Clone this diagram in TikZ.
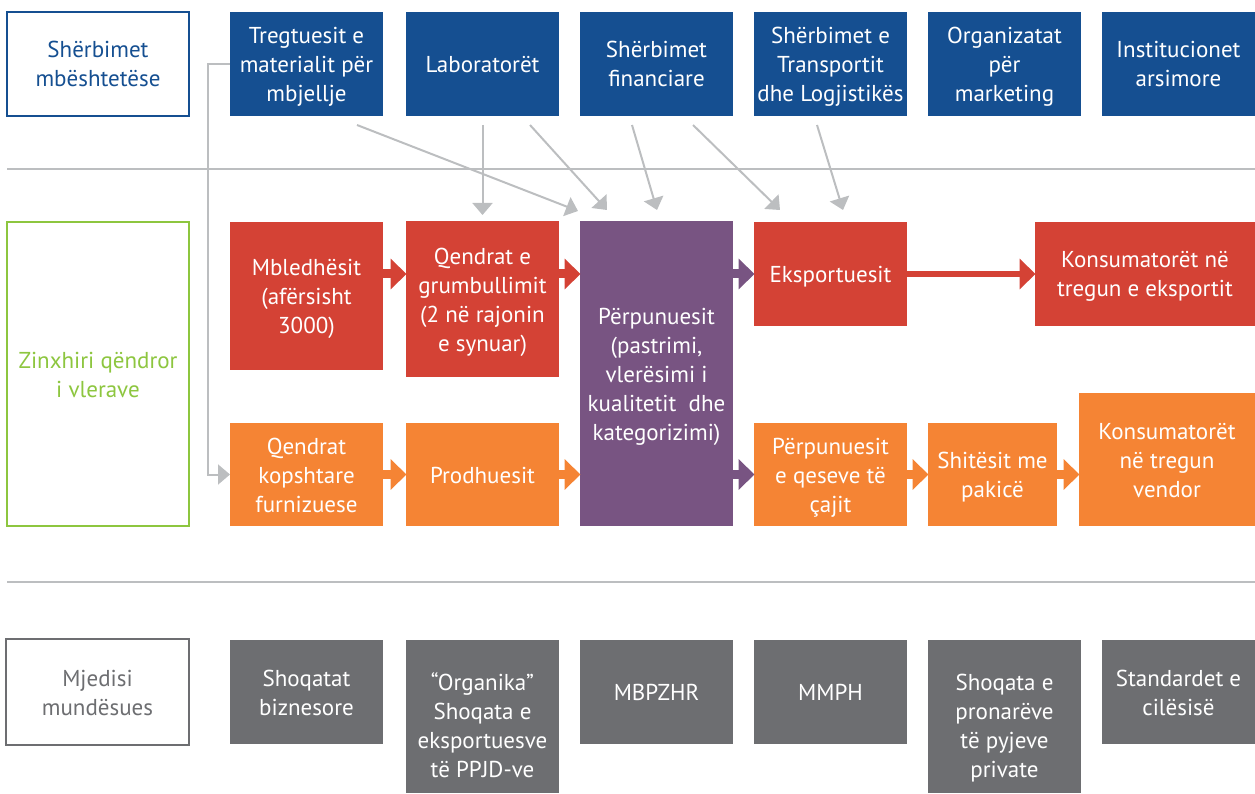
\documentclass[tikz,border=0pt]{standalone}
\usepackage{fontspec}
\setmainfont{PT Sans}
\usetikzlibrary{arrows.meta}
\definecolor{cblue}{HTML}{154F91}
\definecolor{cred}{HTML}{D44235}
\definecolor{corange}{HTML}{F58434}
\definecolor{cpurple}{HTML}{785482}
\definecolor{cgrey}{HTML}{6D6E71}
\definecolor{cline}{HTML}{BCBEC0}
\definecolor{cgreen}{HTML}{8DC63F}
\newcommand\TopS{\rule{0pt}{23.5pt}}
\newcommand\TopL{\rule{0pt}{40.5pt}}
\newcommand\BotS{\rule[-6.5pt]{0pt}{6.5pt}}
\begin{document}
\begin{tikzpicture}[x=1pt,y=-1pt,
  box/.style={anchor=north west, inner sep=0pt, outer sep=0pt, minimum width=153pt, minimum height=104pt, text=white, align=center, font=\fontsize{23}{29}\selectfont},
  lab/.style={box, minimum width=182pt, fill=white, line width=2.2pt},
  sep/.style={draw=cline, line width=2pt},
  garrow/.style={draw=cline, line width=2pt, -{Triangle[width=20pt,length=12pt]}},
  chev/.style={draw=#1, line width=9pt, -{Triangle[width=30pt,length=16pt]}, shorten >=-0.5pt},
  chevthin/.style={draw=#1, line width=5.5pt, -{Triangle[width=30pt,length=16pt]}, shorten >=-0.5pt}
]
\useasboundingbox (0,0) rectangle (1255,794);

% separators
\coordinate (s1a) at (7,169); \coordinate (s1b) at (1255,169);
\coordinate (s2a) at (7,582); \coordinate (s2b) at (1255,582);
\draw[sep] (s1a) -- (s1b);
\draw[sep] (s2a) -- (s2b);

% top row
\node[lab, draw=cblue, text=cblue] (lsup) at (7,12) {\TopS Shërbimet\\mbështetëse\BotS};
\node[box, fill=cblue] (tre) at (230,12) {\TopS Tregtuesit e\\materialit për\\mbjellje\BotS};
\node[box, fill=cblue] (labo) at (406,12) {\TopS Laboratorët\BotS};
\node[box, fill=cblue] (fin) at (580,12) {\TopS Shërbimet\\financiare\BotS};
\node[box, fill=cblue] (tra) at (754,12) {\TopS Shërbimet e\\Transportit\\dhe Logjistikës\BotS};
\node[box, fill=cblue] (org) at (928,12) {\TopS Organizatat\\për\\marketing\BotS};
\node[box, fill=cblue] (ins) at (1102,12) {\TopS Institucionet\\arsimore\BotS};

% middle row
\node[lab, draw=cgreen, text=cgreen, minimum height=304pt] (lval) at (7,222) {\TopS Zinxhiri qëndror\\i vlerave\BotS};
\node[box, fill=cred, minimum height=148pt] (mbl) at (230,222) {\TopS Mbledhësit\\(afërsisht\\3000)\BotS};
\node[box, fill=cred, minimum height=156pt] (qen) at (406,221) {\TopS Qendrat e\\grumbullimit\\(2 në rajonin\\e synuar)\BotS};
\node[box, fill=cpurple, minimum height=305pt] (pur) at (580,221) {\TopS Përpunuesit\\(pastrimi,\\vlerësimi i\\kualitetit\ \ dhe\\kategorizimi)\BotS};
\node[box, fill=cred] (eks) at (754,222) {\TopS Eksportuesit\BotS};
\node[box, fill=cred, minimum width=220pt] (kex) at (1035,222) {\TopS Konsumatorët në\\tregun e eksportit\BotS};
\node[box, fill=corange, minimum height=103pt] (kop) at (230,423) {\TopS Qendrat\\kopshtare\\furnizuese\BotS};
\node[box, fill=corange, minimum height=103pt] (pro) at (406,423) {\TopS Prodhuesit\BotS};
\node[box, fill=corange, minimum height=103pt] (qes) at (754,423) {\TopS Përpunuesit\\e qeseve të\\çajit\BotS};
\node[box, fill=corange, minimum height=103pt, minimum width=129pt] (shi) at (928,423) {\TopS Shitësit me\\pakicë\BotS};
\node[box, fill=corange, minimum height=133pt, minimum width=176pt] (kve) at (1079,393) {\TopS Konsumatorët\\në tregun\\vendor\BotS};

% bottom row
\node[lab, draw=cgrey, text=cgrey, minimum width=183pt, minimum height=106pt, line width=2pt] (lenv) at (6,639) {\TopS Mjedisi\\mundësues\BotS};
\node[box, fill=cgrey] (sho) at (230,640) {\TopS Shoqatat\\biznesore\BotS};
\node[box, fill=cgrey, minimum height=153pt] (orgk) at (406,640) {\TopL “Organika”\\Shoqata e\\eksportuesve\\të PPJD-ve\BotS};
\node[box, fill=cgrey] (mbp) at (580,640) {\TopS MBPZHR\BotS};
\node[box, fill=cgrey] (mmp) at (754,640) {\TopS MMPH\BotS};
\node[box, fill=cgrey, minimum height=153pt] (pyj) at (928,640) {\TopL Shoqata e\\pronarëve\\të pyjeve\\private\BotS};
\node[box, fill=cgrey, minimum width=153pt] (std) at (1102,640) {\TopS Standardet e\\cilësisë\BotS};

% chevron connectors
\draw[chev=cred] (mbl.east |- eks) -- (qen.west |- eks);
\draw[chev=cred] (qen.east |- eks) -- (pur.west |- eks);
\draw[chev=cpurple] (pur.east |- eks) -- (eks.west);
\draw[chevthin=cred] (eks.east) -- (kex.west |- eks);
\draw[chev=corange] (kop.east) -- (pro.west);
\draw[chev=corange] (pro.east) -- (pur.west |- pro);
\draw[chev=cpurple] (pur.east |- qes) -- (qes.west);
\draw[chev=corange] (qes.east) -- (shi.west);
\draw[chev=corange] (shi.east) -- (kve.west |- shi);

% grey support arrows
\draw[garrow] ([xshift=50.5pt,yshift=-9pt]tre.south) -- ([xshift=-2pt,yshift=10pt]pur.north west);
\draw[garrow] ([yshift=-9pt]labo.south) -- ([yshift=6pt]qen.north);
\draw[garrow] ([xshift=47.5pt,yshift=-9pt]labo.south) -- ([xshift=27pt,yshift=11pt]pur.north west);
\draw[garrow] ([xshift=-24.5pt,yshift=-9pt]fin.south) -- ([xshift=0.5pt,yshift=11pt]pur.north);
\draw[garrow] ([xshift=36.5pt,yshift=-9pt]fin.south) -- ([xshift=26pt,yshift=12pt]eks.north west);
\draw[garrow] ([xshift=-13.5pt,yshift=-9pt]tra.south) -- ([xshift=12.5pt,yshift=12pt]eks.north);
\draw[garrow] (tre.west) -| ([xshift=-22pt]kop.west) -- (kop.west);
\end{tikzpicture}
\end{document}
